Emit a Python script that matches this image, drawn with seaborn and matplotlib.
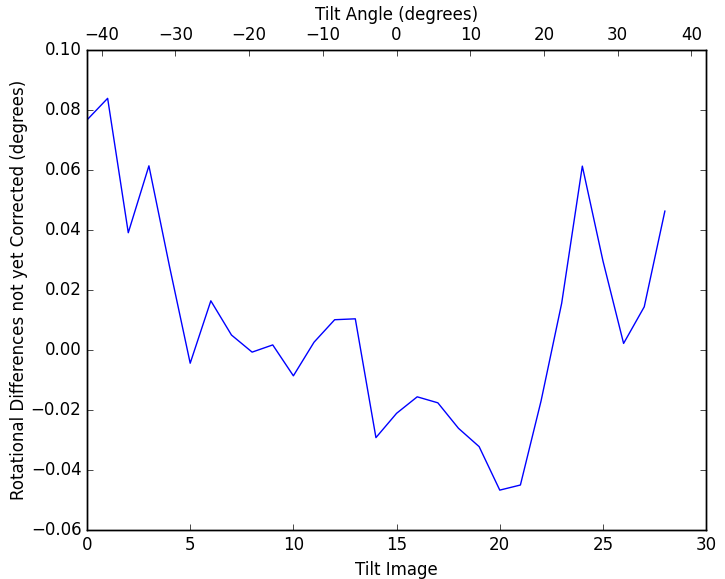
import matplotlib
matplotlib.use("Agg")
import matplotlib.pyplot as plt
import matplotlib.ticker as mticker
import seaborn as sns
import pandas as pd

tilt_image = list(range(29))
rot_diff = [0.0767, 0.0839, 0.0391, 0.0614, 0.0278, -0.0044, 0.0164, 0.0050,
            -0.0007, 0.0017, -0.0086, 0.0026, 0.0101, 0.0104, -0.0292, -0.0211,
            -0.0156, -0.0176, -0.0261, -0.0322, -0.0467, -0.0450, -0.0170,
            0.0156, 0.0613, 0.0297, 0.0022, 0.0144, 0.0463]
tilt_angle_lim = (-42, 42)

df = pd.DataFrame({"image": tilt_image, "diff": rot_diff})

plt.style.use("classic")
plt.rcParams["axes.unicode_minus"] = True
fig = plt.figure(figsize=(7.25, 5.79), dpi=100, facecolor="white")
ax = fig.add_axes([0.12, 0.0846, 0.854, 0.829])
sns.lineplot(data=df, x="image", y="diff", ax=ax, color="b", linewidth=1)
ax.set_xlim(0, 30)
ax.set_ylim(-0.06, 0.10)
ax.set_xlabel("Tilt Image")
ax.set_ylabel("Rotational Differences not yet Corrected (degrees)", labelpad=2)

ax2 = ax.twiny()
ax2.set_xlim(*tilt_angle_lim)
ax2.xaxis.set_major_locator(mticker.MultipleLocator(10))
ax2.set_xlabel("Tilt Angle (degrees)")

fig.savefig("out.png", dpi=100, facecolor="white")
